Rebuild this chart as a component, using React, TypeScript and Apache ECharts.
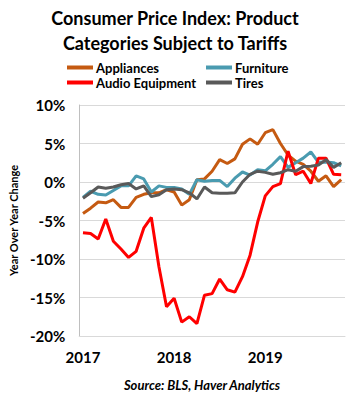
import React, { useEffect, useRef } from "react";
import * as echarts from "echarts";

const months: string[] = [];
for (let y = 2017; y <= 2019; y++) {
  for (let m = 1; m <= 12; m++) {
    if (y === 2019 && m === 12) break;
    months.push(`${y}-${String(m).padStart(2, "0")}`);
  }
}

const appliances = [-4.1, -3.4, -2.6, -2.7, -2.3, -3.3, -3.3, -2.0, -1.6, -1.4, -1.4, -1.0,
  -1.3, -3.0, -2.3, 0.3, 0.4, 1.4, 2.9, 2.4, 3.0, 4.9, 5.6, 4.9,
  6.4, 6.8, 5.0, 3.5, 2.7, 2.3, 1.4, 0.1, 0.8, -0.6, 0.3];
const furniture = [-2.0, -1.2, -1.6, -1.7, -1.1, -0.5, -0.5, 0.8, 0.4, -1.3, -0.5, -0.7,
  -0.7, -0.9, -1.6, 0.3, 0.1, 0.2, 0.2, -0.6, 0.5, 1.3, 0.9, 1.6,
  1.45, 2.3, 3.3, 1.9, 2.5, 3.1, 3.9, 2.55, 2.6, 2.5, 2.1];
const audio = [-6.6, -6.7, -7.4, -4.8, -7.7, -8.7, -9.8, -9.0, -6.0, -4.6, -11.0, -16.2,
  -15.1, -18.2, -17.5, -18.4, -14.7, -14.5, -12.6, -14.0, -14.3, -12.3, -9.5, -5.2,
  -1.8, -0.6, -0.2, 4.0, 0.95, 1.4, -0.2, 3.1, 3.1, 1.0, 0.95];
const tires = [-2.1, -1.4, -0.65, -0.8, -0.65, -0.35, -0.2, -0.9, -0.5, -1.9, -1.65, -1.0,
  -0.9, -1.0, -1.4, -2.2, -0.65, -1.4, -1.45, -1.45, -1.4, 0.0, 1.0, 1.4,
  1.25, 1.0, 1.2, 1.6, 1.4, 2.0, 2.05, 2.2, 2.9, 1.9, 2.5];

const FONT = "Lato";

export default function App() {
  const ref = useRef<HTMLDivElement>(null);
  useEffect(() => {
    if (!ref.current) return;
    const chart = echarts.init(ref.current, null, { renderer: "svg" });
    const mk = (name: string, data: number[], color: string) => ({
      name,
      type: "line",
      data,
      symbol: "none",
      lineStyle: { color, width: 3 },
      itemStyle: { color },
    });
    const legendBase = {
      icon: "rect",
      itemWidth: 26,
      itemHeight: 4,
      itemGap: 3,
      padding: 0,
      textStyle: { fontFamily: FONT, fontWeight: "bold", fontSize: 13, color: "#000", padding: [0, 0, 0, -2] },
      selectedMode: false,
    };
    chart.setOption({
      animation: false,
      title: {
        text: "Consumer Price Index: Product\nCategories Subject to Tariffs",
        left: "center",
        top: 0,
        textStyle: { fontFamily: FONT, fontWeight: "bold", fontSize: 18, lineHeight: 25, color: "#000" },
      },
      legend: [
        { ...legendBase, data: ["Appliances"], left: 67, top: 61 },
        { ...legendBase, data: ["Audio Equipment"], left: 67, top: 76 },
        { ...legendBase, data: ["Furniture"], left: 206, top: 61 },
        { ...legendBase, data: ["Tires"], left: 206, top: 76 },
      ],
      grid: { left: 78, right: 5, top: 105, bottom: 60 },
      xAxis: {
        type: "category",
        data: months,
        boundaryGap: true,
        axisLine: { onZero: false, lineStyle: { color: "#D9D9D9" } },
        axisTick: { show: false },
        axisLabel: {
          interval: 11,
          formatter: (v: string) => v.slice(0, 4),
          fontFamily: FONT,
          fontWeight: "bold",
          fontSize: 15,
          color: "#000",
          margin: 13,
        },
      },
      yAxis: {
        type: "value",
        min: -20,
        max: 10,
        interval: 5,
        name: "Year Over Year Change",
        nameLocation: "middle",
        nameGap: 59,
        nameTextStyle: { fontFamily: FONT, fontWeight: "bold", fontSize: 11, color: "#000", padding: [0, 0, 0, 0] },
        axisLine: { show: true, lineStyle: { color: "#BFBFBF" } },
        axisTick: { show: false },
        axisLabel: {
          formatter: (v: number) => `${v}%`,
          fontFamily: FONT,
          fontWeight: "bold",
          fontSize: 15,
          color: "#000",
          margin: 14,
        },
        splitLine: { lineStyle: { color: "#D9D9D9", width: 1 } },
      },
      graphic: [
        {
          type: "text",
          x: 202,
          y: 385,
          style: {
            text: "Source: BLS, Haver Analytics",
            font: `italic bold 13px ${FONT}`,
            fill: "#000",
            textAlign: "center",
            textVerticalAlign: "middle",
          },
        },
      ],
      series: [
        mk("Appliances", appliances, "#C55A11"),
        mk("Furniture", furniture, "#4A9BB0"),
        mk("Audio Equipment", audio, "#FF0000"),
        mk("Tires", tires, "#595959"),
      ],
    });
    return () => chart.dispose();
  }, []);
  return <div ref={ref} style={{ width: 350, height: 396, position: "absolute", left: 0, top: 0 }} />;
}
